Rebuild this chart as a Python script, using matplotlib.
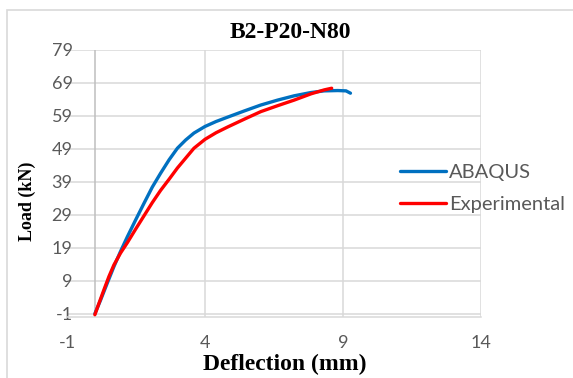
import numpy as np
import matplotlib.pyplot as plt
from matplotlib.patches import Rectangle

plt.rcParams['axes.unicode_minus'] = False

# deflection (mm) / load (kN)
abaqus_x = [0.01, 0.22, 0.46, 0.70, 0.94, 1.19, 1.49, 1.79, 2.09, 2.39, 2.70, 3.00, 3.30,
            3.60, 4.00, 4.40, 4.81, 5.42, 6.02, 6.63, 7.23, 7.84, 8.32, 8.81, 9.11, 9.27]
abaqus_y = [-1.0, 3.2, 8.3, 13.3, 17.9, 22.4, 27.5, 32.5, 37.4, 41.6, 45.7, 49.2, 51.7,
            53.8, 55.8, 57.3, 58.6, 60.5, 62.3, 63.8, 65.1, 66.1, 66.6, 66.7, 66.6, 65.9]
exp_x = [0.01, 0.16, 0.34, 0.52, 0.70, 0.94, 1.19, 1.49, 1.79, 2.09, 2.39, 2.70, 3.00,
         3.30, 3.60, 4.00, 4.40, 4.81, 5.42, 6.02, 6.63, 7.23, 7.84, 8.32, 8.59]
exp_y = [-1.3, 2.2, 6.3, 10.3, 13.8, 17.4, 20.6, 24.7, 28.7, 32.7, 36.4, 39.8, 43.2,
         46.2, 49.2, 51.9, 53.9, 55.6, 58.0, 60.3, 62.1, 63.8, 65.7, 66.9, 67.4]

x_ticks = [-1, 4, 9, 14]
y_ticks = [-1, 9, 19, 29, 39, 49, 59, 69, 79]

W, H = 573, 378
fig = plt.figure(figsize=(W / 100, H / 100), dpi=100)
fig.patches.append(Rectangle((7 / W, -0.1), 1.2, 1.1 - 10 / H, transform=fig.transFigure,
                             fill=False, edgecolor='#d9d9d9', lw=1.2))

ax = fig.add_axes([67 / W, 1 - 317 / H, 414 / W, 267 / H])
ax.set_xlim(-1, 14)
ax.set_ylim(-2, 79)

grid_c = '#d9d9d9'
for y in y_ticks:
    ax.axhline(y, color=grid_c, lw=1.1, zorder=1)
for x in x_ticks[1:]:
    ax.axvline(x, color=grid_c, lw=1.1, zorder=1)
ax.axvline(0, color='#bfbfbf', lw=1.1, zorder=1)

for s in ['top', 'right', 'left']:
    ax.spines[s].set_visible(False)
ax.spines['bottom'].set_color(grid_c)
ax.spines['bottom'].set_linewidth(1.1)

ax.plot(abaqus_x, abaqus_y, color='#0070c0', lw=2.4, label='ABAQUS', zorder=3,
        solid_capstyle='round', solid_joinstyle='round')
ax.plot(exp_x, exp_y, color='#ff0000', lw=2.4, label='Experimental', zorder=4,
        solid_capstyle='round', solid_joinstyle='round')

tick_font = 'Lato'
ax.set_xticks(x_ticks)
ax.set_yticks(y_ticks)
ax.tick_params(axis='both', length=0, labelcolor='#595959', labelsize=13)
ax.tick_params(axis='x', pad=13)
ax.tick_params(axis='y', pad=-4)
for lbl in ax.get_xticklabels() + ax.get_yticklabels():
    lbl.set_fontfamily(tick_font)

fig.text(290 / W, 1 - 33 / H, 'B2-P20-N80', ha='center', va='center',
         fontsize=17, fontweight='bold', family='Liberation Serif')
fig.text(285 / W, 1 - 364 / H, 'Deflection (mm)', ha='center', va='center',
         fontsize=17, fontweight='bold', family='Liberation Serif')
fig.text(27 / W, 1 - 201 / H, 'Load (kN)', ha='center', va='center', rotation=90,
         fontsize=13, fontweight='bold', family='Liberation Serif')

leg = fig.legend(loc='upper left', bbox_to_anchor=(400 / W, 1 - 164 / H), frameon=False,
                 prop={'family': tick_font, 'size': 14.5}, handlelength=2.3,
                 handletextpad=0.12, labelspacing=0.75, borderpad=0, borderaxespad=0)
for t in leg.get_texts():
    t.set_color('#595959')

fig.savefig('out.png', dpi=100)
